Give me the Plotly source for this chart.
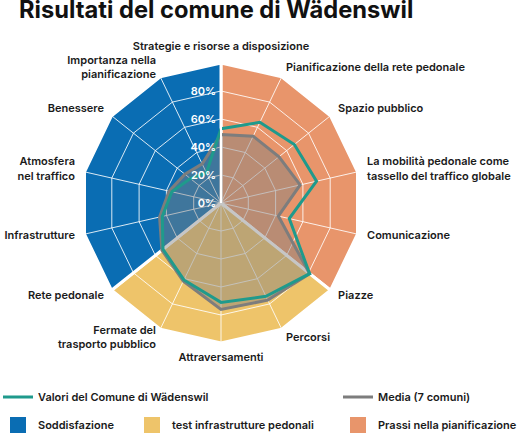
import math
import plotly.graph_objects as go

categories = [
    "Strategie e risorse a disposizione",
    "Pianificazione della rete pedonale",
    "Spazio pubblico",
    "La mobilità pedonale come<br>tassello del traffico globale",
    "Comunicazione",
    "Piazze",
    "Percorsi",
    "Attraversamenti",
    "Fermate del<br>trasporto pubblico",
    "Rete pedonale",
    "Infrastrutture",
    "Atmosfera<br>nel traffico",
    "Benessere",
    "Importanza nella<br>pianificazione",
]
wadenswil = [53, 64, 67, 70, 50, 81, 74, 71, 61, 53, 43, 36, 28, 24]
media = [49, 53, 53, 58, 42, 81, 77, 76, 62, 54, 45, 38, 33, 31]

group_names = ["Prassi nella pianificazione", "test infrastrutture pedonali", "Soddisfazione"]
group_start = [0, 5, 9]  # first category index of each group
group_colors = ["#e8956b", "#eec46a", "#0a6db3"]
legend_order = ["Soddisfazione", "test infrastrutture pedonali", "Prassi nella pianificazione"]

tick_vals = [0, 20, 40, 60, 80]
tick_text = ["%d%%" % v for v in tick_vals]
r_max = 100      # full scale (edge of coloured sectors)
r_label = 107    # where category labels sit
r_range = 108    # axis range (labels must lie inside it)

TEAL = "#1f9a8c"
GRAY = "#7d7d7d"
FONT = "Inter"

fig = go.Figure()

# background sectors (lower polar subplot)
n = len(categories)
for gi, name in enumerate(group_names):
    s = group_start[gi]
    e = group_start[(gi + 1) % len(group_start)]
    idx = []
    k = s
    while True:
        idx.append(k % n)
        if k % n == e % n and len(idx) > 1:
            break
        k += 1
    theta = [categories[i] for i in idx] + [categories[s]]
    r = [r_max] * len(idx) + [0]
    theta.append(categories[s])
    r.append(r_max)
    fig.add_trace(go.Scatterpolar(
        r=r, theta=theta, mode="lines", fill="toself",
        fillcolor=group_colors[gi], line=dict(color="white", width=3),
        showlegend=False, hoverinfo="skip", subplot="polar"))

# data (upper polar subplot)
fig.add_trace(go.Scatterpolar(
    r=media + [media[0]], theta=categories + [categories[0]],
    mode="lines", fill="toself", fillcolor="rgba(128,128,128,0.45)",
    line=dict(color="rgba(0,0,0,0)", width=0), showlegend=False,
    hoverinfo="skip", subplot="polar2"))
fig.add_trace(go.Scatterpolar(
    r=media + [media[0]], theta=categories + [categories[0]],
    mode="lines", line=dict(color=GRAY, width=3),
    name="Media (7 comuni)", legend="legend2", subplot="polar2"))
fig.add_trace(go.Scatterpolar(
    r=wadenswil + [wadenswil[0]], theta=categories + [categories[0]],
    mode="lines", line=dict(color=TEAL, width=3),
    name="Valori del Comune di Wädenswil", legend="legend", subplot="polar2"))

# category labels, placed just outside the polygon
positions = []
for i in range(n):
    sx = math.sin(2 * math.pi * i / n)
    if sx > 0.1:
        positions.append("middle right")
    elif sx < -0.1:
        positions.append("middle left")
    elif math.cos(2 * math.pi * i / n) > 0:
        positions.append("top center")
    else:
        positions.append("bottom center")
fig.add_trace(go.Scatterpolar(
    r=[r_label] * n, theta=categories, mode="text", text=categories,
    textposition=positions, cliponaxis=False,
    textfont=dict(family=FONT, size=11, color="#1a1a1a", weight=600),
    showlegend=False, hoverinfo="skip", subplot="polar2"))

# legend swatches for sectors
for li, name in enumerate(legend_order):
    col = group_colors[group_names.index(name)]
    fig.add_trace(go.Scatterpolar(
        r=[None], theta=[categories[0]], mode="markers",
        marker=dict(symbol="square", size=18, color=col),
        name=name, legend="legend%d" % (li + 3), subplot="polar2"))

rad_px = 140 * r_range / r_max
dom_x = [(221 - rad_px) / 518, (221 + rad_px) / 518]
dom_y = [(233 - rad_px) / 436, (233 + rad_px) / 436]

ang_common = dict(type="category", categoryorder="array", categoryarray=categories,
                  rotation=90, direction="clockwise")

fig.update_layout(
    width=518, height=436,
    margin=dict(l=0, r=0, t=0, b=0, autoexpand=False),
    paper_bgcolor="white",
    font=dict(family=FONT, color="#1a1a1a"),
    title=dict(text="<b>Risultati del comune di Wädenswil</b>",
               font=dict(family=FONT, size=23.7, color="#111"),
               x=19 / 518, xanchor="left", xref="container",
               y=1 - 10 / 436, yanchor="middle", yref="container"),
    polar=dict(
        domain=dict(x=dom_x, y=dom_y), gridshape="linear", bgcolor="white",
        angularaxis=dict(**ang_common, showgrid=False, showline=False,
                         showticklabels=False, ticks=""),
        radialaxis=dict(range=[0, r_range], showgrid=False, showline=False,
                        showticklabels=False, ticks=""),
    ),
    polar2=dict(
        domain=dict(x=dom_x, y=dom_y), gridshape="linear", bgcolor="rgba(0,0,0,0)",
        angularaxis=dict(**ang_common, showgrid=True, gridcolor="rgba(255,255,255,0.85)",
                         gridwidth=1, showline=False, ticks="", showticklabels=False),
        radialaxis=dict(range=[0, r_range], angle=90, tickangle=90, side="counterclockwise",
                        tickvals=tick_vals, ticktext=tick_text, showgrid=True,
                        gridcolor="rgba(255,255,255,0.85)", gridwidth=1,
                        showline=True, linecolor="white", linewidth=2, ticks="",
                        tickfont=dict(family=FONT, size=11, color="white", weight=600)),
    ),
)

leg_font = dict(family=FONT, size=11, color="#1a1a1a", weight=600)
leg_pos = {
    "legend": (-2 / 518, (436 - 397) / 436),
    "legend2": (338 / 518, (436 - 397) / 436),
    "legend3": (-2 / 518, (436 - 425) / 436),
    "legend4": (132 / 518, (436 - 425) / 436),
    "legend5": (338 / 518, (436 - 425) / 436),
}
for key, (lx, ly) in leg_pos.items():
    fig.update_layout({key: dict(x=lx, y=ly, xanchor="left", yanchor="middle",
                                 orientation="h", bgcolor="rgba(0,0,0,0)",
                                 font=leg_font, itemwidth=30)})

fig.write_html("out.html")
